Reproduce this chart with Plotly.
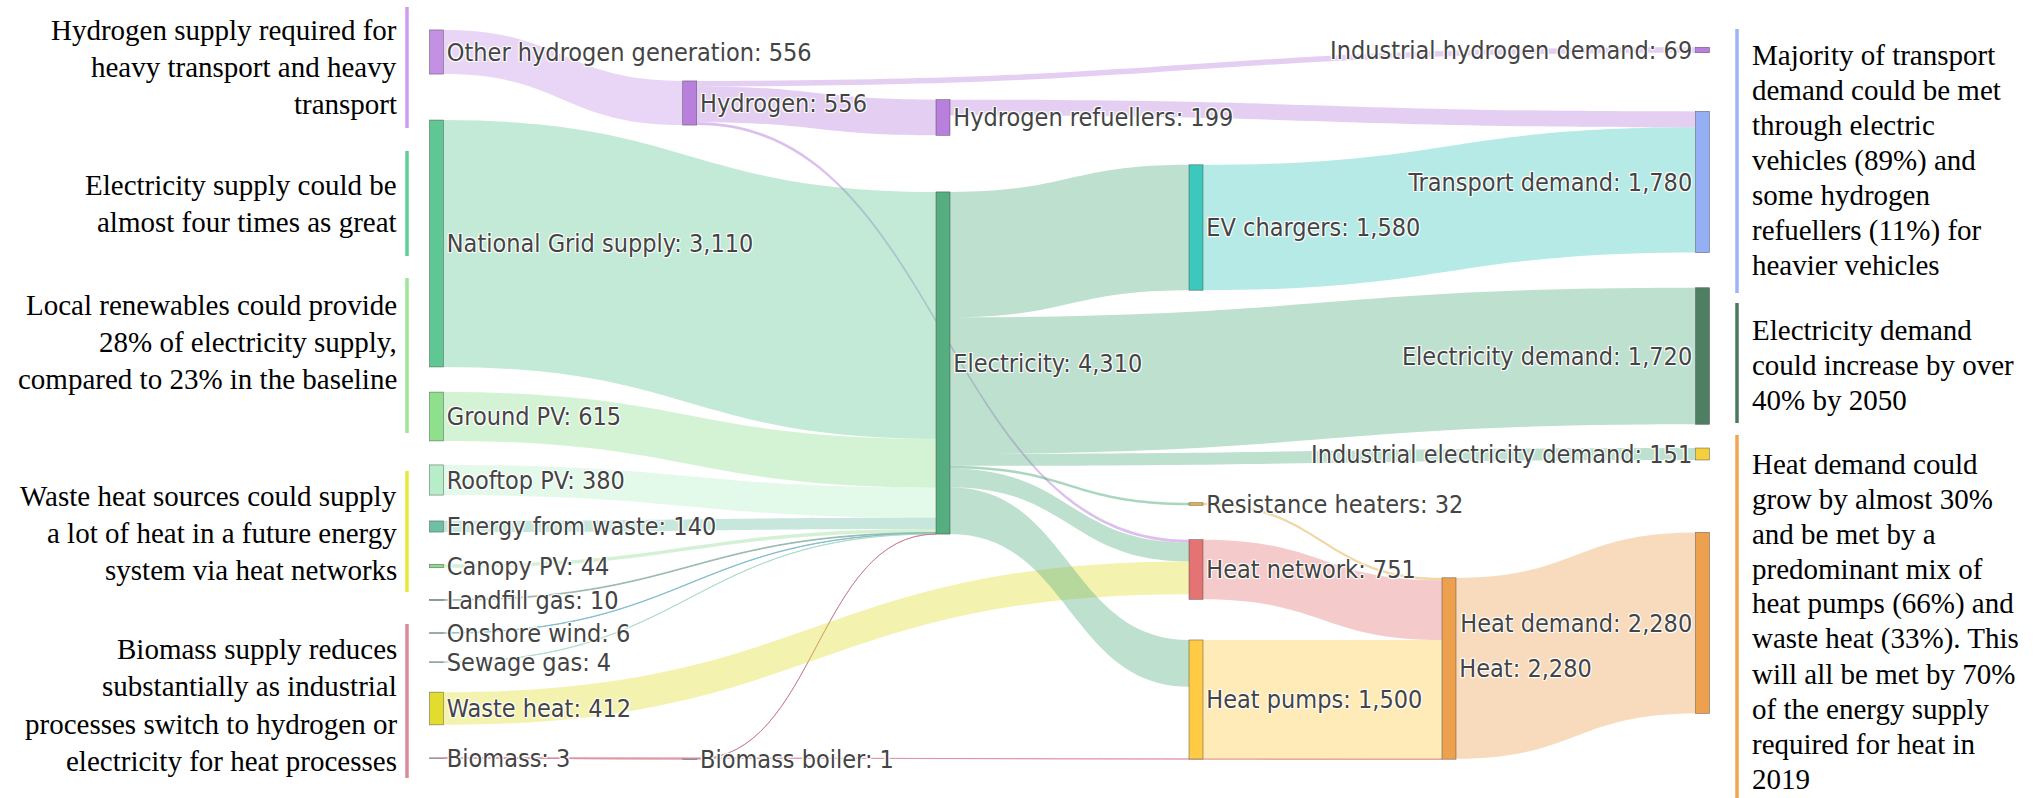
import plotly.graph_objects as go

W, H = 2040, 798

# ---- data -------------------------------------------------------------
node_names = [
    "Other hydrogen generation", "National Grid supply", "Ground PV", "Rooftop PV",
    "Energy from waste", "Canopy PV", "Landfill gas", "Onshore wind", "Sewage gas",
    "Waste heat", "Biomass",
    "Hydrogen", "Biomass boiler",
    "Hydrogen refuellers", "Electricity",
    "EV chargers", "Resistance heaters", "Heat network", "Heat pumps",
    "Heat",
    "Industrial hydrogen demand", "Transport demand", "Electricity demand",
    "Industrial electricity demand", "Heat demand",
]
# figures printed next to each node (GWh)
node_totals = [
    556, 3110, 615, 380, 140, 44, 10, 6, 4, 412, 3,
    556, 1,
    199, 4310,
    1580, 32, 751, 1500,
    2280,
    69, 1780, 1720, 151, 2280,
]

link_source = [
    "Other hydrogen generation", "Hydrogen", "Hydrogen", "Hydrogen", "Hydrogen refuellers",
    "National Grid supply", "Ground PV", "Rooftop PV", "Energy from waste", "Canopy PV",
    "Landfill gas", "Onshore wind", "Sewage gas", "Biomass", "Biomass", "Biomass boiler",
    "Waste heat",
    "Electricity", "Electricity", "Electricity", "Electricity", "Electricity", "Electricity",
    "EV chargers", "Resistance heaters", "Heat network", "Heat pumps", "Heat",
]
link_target = [
    "Hydrogen", "Industrial hydrogen demand", "Hydrogen refuellers", "Heat network", "Transport demand",
    "Electricity", "Electricity", "Electricity", "Electricity", "Electricity",
    "Electricity", "Electricity", "Electricity", "Biomass boiler", "Heat", "Electricity",
    "Heat network",
    "EV chargers", "Electricity demand", "Industrial electricity demand", "Resistance heaters",
    "Heat network", "Heat pumps",
    "Transport demand", "Heat", "Heat", "Heat", "Heat demand",
]
link_value = [
    556, 69, 450, 37, 199,
    3110, 615, 380, 140, 44,
    10, 6, 4, 1, 2, 1,
    412,
    1580, 1720, 151, 32, 237, 590,
    1580, 32, 751, 1500, 2280,
]

left_notes = [
    ["Hydrogen supply required for", "heavy transport and heavy", "transport"],
    ["Electricity supply could be", "almost four times as great"],
    ["Local renewables could provide", "28% of electricity supply,", "compared to 23% in the baseline"],
    ["Waste heat sources could supply", "a lot of heat in a future energy", "system via heat networks"],
    ["Biomass supply reduces", "substantially as industrial",
     "processes switch to hydrogen or", "electricity for heat processes"],
]
right_notes = [
    ["Majority of transport", "demand could be met", "through electric", "vehicles (89%) and",
     "some hydrogen", "refuellers (11%) for", "heavier vehicles"],
    ["Electricity demand", "could increase by over", "40% by 2050"],
    ["Heat demand could", "grow by almost 30%", "and be met by a", "predominant mix of",
     "heat pumps (66%) and", "waste heat (33%). This", "will all be met by 70%",
     "of the energy supply", "required for heat in", "2019"],
]

# ---- styling / layout ----------------------------------------------------
node_colors = [
    "#c490e4", "#5ec794", "#8fe08d", "#b5eec8", "#6dbfa6", "#8fd98f", "#8fb0a8",
    "#7ab8c8", "#a8d8c8", "#e2dc2e", "#d98c9c",
    "#b97fdc", "#c47e8c",
    "#b97fdc", "#55ad80",
    "#3cc8bd", "#e6b04a", "#e57373", "#ffcb45",
    "#eda14f",
    "#b97fdc", "#94aff4", "#4e7f63", "#f6cf3e", "#eda14f",
]

# column of each node and the pixel centre of each column
node_column = [0] * 11 + [1, 1] + [2, 2] + [3, 3, 3, 3] + [4] + [5] * 5
column_centre_px = [436.5, 689.7, 943.0, 1196.0, 1449.0, 1702.5]
# vertical centre of each node, in pixels from the top
node_centre_px = [
    52, 243.5, 416.5, 480, 526.5, 566, 600, 633, 662, 708.5, 758,
    103, 759,
    117.5, 363,
    227.5, 504, 569.5, 699.5,
    668.5,
    50, 182, 356, 454, 622.9,
]


def rgba(hex_colour, alpha):
    h = hex_colour.lstrip("#")
    r, g, b = int(h[0:2], 16), int(h[2:4], 16), int(h[4:6], 16)
    return f"rgba({r},{g},{b},{alpha})"


def link_alpha(v):
    # hairline flows are drawn as 1px strokes, so they need more opacity
    if v <= 12:
        return 0.75
    if v < 40:
        return 0.5
    return 0.38


idx = {n: i for i, n in enumerate(node_names)}
src = [idx[s] for s in link_source]
tgt = [idx[t] for t in link_target]
link_colors = [rgba(node_colors[s], link_alpha(v)) for s, v in zip(src, link_value)]

labels = [f"{n}: {v:,}" for n, v in zip(node_names, node_totals)]

fig = go.Figure(go.Sankey(
    arrangement="fixed",
    domain=dict(x=[0, 1], y=[0, 1]),
    node=dict(
        label=labels,
        color=node_colors,
        pad=37.88,
        thickness=14,
        line=dict(color="rgba(60,60,60,0.7)", width=0.6),
        x=[column_centre_px[c] / W for c in node_column],
        y=[p / H for p in node_centre_px],
    ),
    link=dict(
        source=src,
        target=tgt,
        value=link_value,
        color=link_colors,
        line=dict(width=0),
    ),
    textfont=dict(family="DejaVu Sans Condensed, DejaVu Sans, sans-serif", size=25, color="#444"),
))

serif = dict(family="Liberation Serif, Times New Roman, serif", size=29, color="black")

left_centres = [67, 203.5, 342, 533, 705]
left_lines_y = [(7, 128), (151, 256), (278, 433), (471, 592), (624, 778)]
left_line_colors = ["#cf9bef", "#5fcf98", "#9ee69a", "#e8e83a", "#d98b9c"]
right_centres = [160, 365, 621]
right_lines_y = [(29, 293), (303, 423), (435, 798)]
right_line_colors = ["#9db5f7", "#4a7a5e", "#f2a652"]


def add_block(lines, centre, spacing, x_px, anchor):
    n = len(lines)
    for i, line in enumerate(lines):
        y_px = centre + (i - (n - 1) / 2) * spacing
        fig.add_annotation(
            x=x_px / W, y=1 - y_px / H, xref="paper", yref="paper",
            text=line, showarrow=False, xanchor=anchor, yanchor="middle",
            align=anchor, font=serif,
        )


for lines, c in zip(left_notes, left_centres):
    add_block(lines, c, 37.3, 399, "right")
for lines, c in zip(right_notes, right_centres):
    add_block(lines, c, 35, 1750, "left")

for (y0, y1), col in zip(left_lines_y, left_line_colors):
    fig.add_shape(type="line", xref="paper", yref="paper",
                  x0=407 / W, x1=407 / W, y0=1 - y0 / H, y1=1 - y1 / H,
                  line=dict(color=col, width=3.5))
for (y0, y1), col in zip(right_lines_y, right_line_colors):
    fig.add_shape(type="line", xref="paper", yref="paper",
                  x0=1737 / W, x1=1737 / W, y0=1 - y0 / H, y1=1 - y1 / H,
                  line=dict(color=col, width=3.5))

fig.update_layout(
    width=W, height=H,
    margin=dict(l=0, r=0, t=0, b=0),
    paper_bgcolor="white",
    plot_bgcolor="white",
    font=dict(family="DejaVu Sans, Verdana, sans-serif", color="#444"),
)

fig.write_html("out.html")
